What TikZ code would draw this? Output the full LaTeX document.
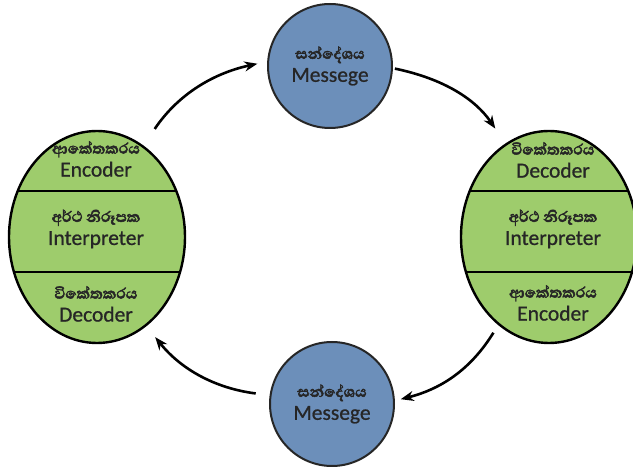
\documentclass[tikz,border=0pt]{standalone}
\usepackage{fontspec}
\setmainfont{Carlito}[FakeBold=0.8]
\newfontfamily\sinhala[Script=Sinhala,FakeBold=2.5]{Abhaya Libre}
\usetikzlibrary{shapes.geometric,arrows.meta}
\definecolor{leafgreen}{RGB}{158,204,108}
\definecolor{msgblue}{RGB}{108,143,186}
\newcommand{\sitext}[1]{{\sinhala\bfseries\fontsize{19}{23}\selectfont #1}}

\begin{document}
\begin{tikzpicture}[x=1pt,y=-1pt,every node/.style={align=center,inner sep=0pt},
    side/.style={shape=ellipse,draw,line width=2.4pt,fill=leafgreen,minimum width=176pt,minimum height=212pt},
    msg/.style={shape=circle,draw=black!85,line width=2pt,fill=msgblue,minimum size=124pt},
    lbl/.style={font=\fontsize{21.5}{23}\selectfont,text=black!85},
    flow/.style={-{Stealth[length=13pt,width=10pt]},line width=2.6pt,bend left=22}]
  \useasboundingbox (0,0) rectangle (633,470);
  % the two parties
  \node[side] (left) at (97,237) {};
  \node[side] (right) at (549,237) {};
  \begin{scope}
    \clip (97,237) ellipse [x radius=88, y radius=106];
    \draw[line width=2.4pt] (0,191) -- (200,191) (0,272) -- (200,272);
  \end{scope}
  \begin{scope}
    \clip (549,237) ellipse [x radius=88, y radius=106];
    \draw[line width=2.4pt] (440,191) -- (640,191) (440,272) -- (640,272);
  \end{scope}
  \node[lbl] (leftenc) at (96,159) {\sitext{ආකේතකරය}\\Encoder};
  \node[lbl] (leftint) at (96,229) {\sitext{අර්ථ නිරූපක}\\Interpreter};
  \node[lbl] (leftdec) at (96,304) {\sitext{විකේතකරය}\\Decoder};
  \node[lbl] (rightdec) at (553,160) {\sitext{විකේතකරය}\\Decoder};
  \node[lbl] (rightint) at (553,229) {\sitext{අර්ථ නිරූපක}\\Interpreter};
  \node[lbl] (rightenc) at (553,303) {\sitext{ආකේතකරය}\\Encoder};
  % the messages
  \node[msg,lbl] (msgtop) at (330,66) {\sitext{සන්දේශය}\\Messege};
  \node[msg,lbl] (msgbot) at (332,404) {\sitext{සන්දේශය}\\Messege};
  % flow round the circle
  \draw[flow,shorten <=20pt,shorten >=10pt] (left.63) to (msgtop.176);
  \draw[flow,shorten <=2pt,shorten >=18pt] (msgtop.-2) to (right.115);
  \draw[flow,shorten <=9pt,shorten >=6pt] (right.-120) to (msgbot.3);
  \draw[flow,shorten <=14pt,shorten >=14pt] (msgbot.172) to (left.-61);
\end{tikzpicture}
\end{document}
